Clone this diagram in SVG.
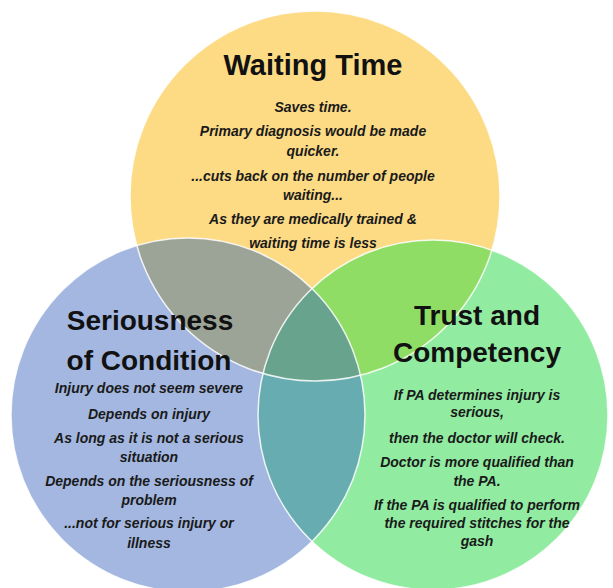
<svg xmlns="http://www.w3.org/2000/svg" width="613" height="588" viewBox="0 0 613 588">
<style>
.title{font-family:"Liberation Sans",Arial,sans-serif;font-weight:bold;font-size:28px;fill:#111;text-anchor:middle}
.body{font-family:"Liberation Sans",Arial,sans-serif;font-weight:bold;font-style:italic;font-size:14px;fill:#1a1a1a;text-anchor:middle}
.outline{fill:none;stroke:#ffffff;stroke-width:1.5;stroke-opacity:0.85}
</style>
<defs>
<clipPath id="cpY"><circle cx="315" cy="196" r="185"/></clipPath>
<clipPath id="cpB"><circle cx="188" cy="415" r="177"/></clipPath>
</defs>
<rect width="613" height="588" fill="#ffffff"/>
<g id="fills">
<circle cx="315" cy="196" r="185" fill="#FDDB85"/>
<circle cx="188" cy="415" r="177" fill="#A3B7E0"/>
<circle cx="433" cy="415" r="175" fill="#91EBA1"/>
<circle cx="188" cy="415" r="177" fill="#9CA397" clip-path="url(#cpY)"/>
<circle cx="433" cy="415" r="175" fill="#90DD65" clip-path="url(#cpY)"/>
<circle cx="433" cy="415" r="175" fill="#66ACB0" clip-path="url(#cpB)"/>
<g clip-path="url(#cpY)"><circle cx="433" cy="415" r="175" fill="#67A38D" clip-path="url(#cpB)"/></g>
</g>
<g id="waiting-time">
<circle class="outline" cx="315" cy="196" r="185"/>
<text class="title" x="313" y="75" style="font-size:29px">Waiting Time</text>
<text class="body" x="313" y="112">Saves time.</text>
<text class="body" x="313" y="136">Primary diagnosis would be made</text>
<text class="body" x="313" y="156">quicker.</text>
<text class="body" x="313" y="181">...cuts back on the number of people</text>
<text class="body" x="313" y="200">waiting...</text>
<text class="body" x="313" y="224">As they are medically trained &amp;</text>
<text class="body" x="313" y="248">waiting time is less</text>
</g>
<g id="seriousness-of-condition">
<circle class="outline" cx="188" cy="415" r="177"/>
<text class="title" x="150" y="330">Seriousness</text>
<text class="title" x="149" y="370">of Condition</text>
<text class="body" x="149" y="393">Injury does not seem severe</text>
<text class="body" x="149" y="419">Depends on injury</text>
<text class="body" x="149" y="443">As long as it is not a serious</text>
<text class="body" x="149" y="462">situation</text>
<text class="body" x="149" y="486">Depends on the seriousness of</text>
<text class="body" x="149" y="505">problem</text>
<text class="body" x="149" y="528">...not for serious injury or</text>
<text class="body" x="149" y="548">illness</text>
</g>
<g id="trust-and-competency">
<circle class="outline" cx="433" cy="415" r="175"/>
<text class="title" x="477" y="325">Trust and</text>
<text class="title" x="477" y="362">Competency</text>
<text class="body" x="477" y="400">If PA determines injury is</text>
<text class="body" x="477" y="417">serious,</text>
<text class="body" x="477" y="443">then the doctor will check.</text>
<text class="body" x="477" y="467">Doctor is more qualified than</text>
<text class="body" x="477" y="486">the PA.</text>
<text class="body" x="477" y="510">If the PA is qualified to perform</text>
<text class="body" x="477" y="528">the required stitches for the</text>
<text class="body" x="477" y="546">gash</text>
</g>
</svg>
